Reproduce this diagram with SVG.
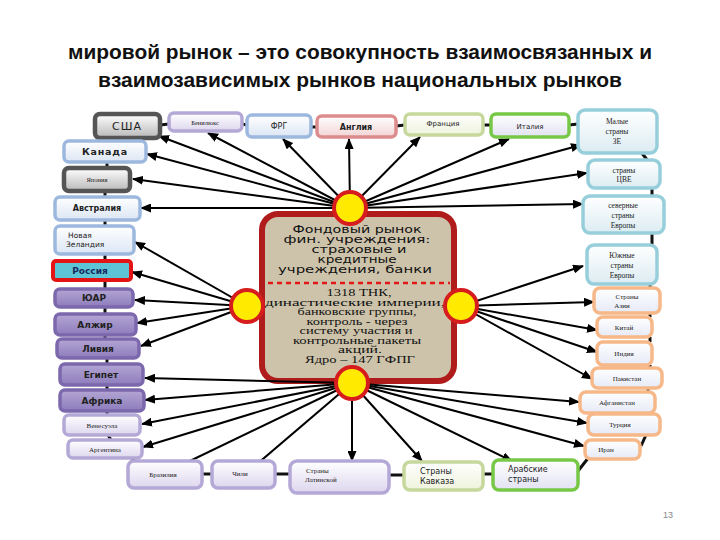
<svg xmlns="http://www.w3.org/2000/svg" width="720" height="540" viewBox="0 0 720 540">
<defs>
<linearGradient id="gGrey" x1="0" y1="0" x2="0" y2="1"><stop offset="0" stop-color="#ffffff"/><stop offset="1" stop-color="#b8b8b8"/></linearGradient>
<linearGradient id="gLP" x1="0" y1="0" x2="0" y2="1"><stop offset="0" stop-color="#ffffff"/><stop offset="1" stop-color="#ddd6ee"/></linearGradient>
<linearGradient id="gBlue" x1="0" y1="0" x2="0" y2="1"><stop offset="0" stop-color="#ffffff"/><stop offset="1" stop-color="#dce6f4"/></linearGradient>
<linearGradient id="gPink" x1="0" y1="0" x2="0" y2="1"><stop offset="0" stop-color="#ffffff"/><stop offset="1" stop-color="#f2d4d4"/></linearGradient>
<linearGradient id="gLG" x1="0" y1="0" x2="0" y2="1"><stop offset="0" stop-color="#ffffff"/><stop offset="1" stop-color="#eef3dc"/></linearGradient>
<linearGradient id="gGreen" x1="0" y1="0" x2="0" y2="1"><stop offset="0" stop-color="#ffffff"/><stop offset="1" stop-color="#e2e2f2"/></linearGradient>
<linearGradient id="gCyan" x1="0" y1="0" x2="0" y2="1"><stop offset="0" stop-color="#ffffff"/><stop offset="1" stop-color="#dcecf2"/></linearGradient>
<linearGradient id="gOr" x1="0" y1="0" x2="0" y2="1"><stop offset="0" stop-color="#ffffff"/><stop offset="1" stop-color="#e6eaf6"/></linearGradient>
<linearGradient id="gDP" x1="0" y1="0" x2="0" y2="1"><stop offset="0" stop-color="#b4a6d4"/><stop offset="1" stop-color="#8c7cbc"/></linearGradient>
<marker id="arr" markerWidth="11" markerHeight="9" refX="10" refY="4.5" orient="auto" markerUnits="userSpaceOnUse"><path d="M0,0 L11,4.5 L0,9 z" fill="#000"/></marker>
<style>
.box{stroke-width:3.5}
.grey{fill:url(#gGrey);stroke:#555555;stroke-width:4.5}
.lp{fill:url(#gLP);stroke:#b4a8d6}
.blue{fill:url(#gBlue);stroke:#9db8de}
.pink{fill:url(#gPink);stroke:#dc8c8c}
.lg{fill:url(#gLG);stroke:#c6d89c}
.green{fill:url(#gGreen);stroke:#78c848}
.cyan{fill:url(#gCyan);stroke:#96cedc}
.or{fill:url(#gOr);stroke:#f6b888}
.dp{fill:url(#gDP);stroke:#7c68ac}
.red{fill:#5cc4d4;stroke:#e41414;stroke-width:4}
.t{font-family:"DejaVu Sans",sans-serif;fill:#222;text-anchor:middle}
.s{font-family:"Liberation Serif",serif;fill:#222;text-anchor:middle}
.st{text-anchor:start}
.dk{fill:#1a2a60}
.conn line{stroke:#000;stroke-width:2}
.chain line{stroke:#111;stroke-width:3}
.hub{fill:#ffea00;stroke:#d61c1c;stroke-width:4}
.title{font-family:"Liberation Sans",sans-serif;font-weight:bold;font-size:21px;fill:#111;text-anchor:middle}
.ct{font-family:"DejaVu Sans",sans-serif;font-size:9.8px;fill:#111;text-anchor:middle}
.cs{font-family:"Liberation Serif",serif;font-size:9.8px;fill:#111;text-anchor:middle}
</style>
</defs>
<rect width="720" height="540" fill="#ffffff"/>
<g id="title">
<text class="title" x="360" y="59" textLength="584" lengthAdjust="spacingAndGlyphs">мировой рынок – это совокупность взаимосвязанных и</text>
<text class="title" x="360" y="87" textLength="524" lengthAdjust="spacingAndGlyphs">взаимозависимых рынков национальных рынков</text>
</g>

<g id="center">
<rect x="262" y="214" width="192" height="167" rx="16" fill="#cdc3aa" stroke="#b01c1c" stroke-width="6"/>
<text class="ct" x="357" y="233" textLength="129" lengthAdjust="spacingAndGlyphs">Фондовый рынок</text>
<text class="ct" x="357" y="243" textLength="147" lengthAdjust="spacingAndGlyphs">фин. учреждения:</text>
<text class="ct" x="359" y="253" textLength="95" lengthAdjust="spacingAndGlyphs">страховые и</text>
<text class="ct" x="357" y="262.5" textLength="79" lengthAdjust="spacingAndGlyphs">кредитные</text>
<text class="ct" x="355" y="272.5" textLength="154" lengthAdjust="spacingAndGlyphs">учреждения, банки</text>
<line x1="268" y1="283" x2="450" y2="283" stroke="#e01818" stroke-width="2.5" stroke-dasharray="5 4"/>
<text class="cs" x="359" y="295.5" textLength="65" lengthAdjust="spacingAndGlyphs">1318 ТНК,</text>
<text class="cs" x="355" y="305.5" textLength="180" lengthAdjust="spacingAndGlyphs">династические империи,</text>
<text class="cs" x="357" y="315" textLength="119" lengthAdjust="spacingAndGlyphs">банковские группы,</text>
<text class="cs" x="357" y="324.5" textLength="101" lengthAdjust="spacingAndGlyphs">контроль - через</text>
<text class="cs" x="356" y="334" textLength="113" lengthAdjust="spacingAndGlyphs">систему участия и</text>
<text class="cs" x="357" y="343.5" textLength="128" lengthAdjust="spacingAndGlyphs">контрольные пакеты</text>
<text class="cs" x="360" y="353" textLength="44" lengthAdjust="spacingAndGlyphs">акций.</text>
<text class="cs" x="360" y="362.5" textLength="110" lengthAdjust="spacingAndGlyphs">Ядро – 147 ГФПГ</text>
</g>

<g id="chains" class="chain">
<line x1="160" y1="125" x2="169" y2="124"/><line x1="242" y1="124" x2="247" y2="125"/><line x1="311" y1="127" x2="317" y2="127"/>
<line x1="396" y1="126" x2="405" y2="125"/><line x1="483" y1="125" x2="491" y2="125"/><line x1="569" y1="125" x2="578" y2="124"/>
<line x1="641" y1="152" x2="648" y2="161"/><line x1="652" y1="188" x2="652" y2="196"/><line x1="652" y1="233" x2="652" y2="245"/>
<line x1="650" y1="284" x2="650" y2="288"/><line x1="650" y1="313" x2="650" y2="317"/><line x1="650" y1="337" x2="650" y2="342"/>
<line x1="650" y1="365" x2="650" y2="368"/><line x1="648" y1="388" x2="648" y2="392"/><line x1="648" y1="413" x2="648" y2="414"/>
<line x1="646" y1="435" x2="641" y2="446"/><line x1="578" y1="471" x2="589" y2="457"/>
<line x1="202" y1="474" x2="212" y2="474"/><line x1="275" y1="474" x2="290" y2="474"/><line x1="389" y1="475" x2="404" y2="475"/><line x1="483" y1="474" x2="493" y2="474"/>
<line x1="103" y1="138" x2="101" y2="141"/><line x1="107" y1="162" x2="107" y2="168"/><line x1="105" y1="191" x2="105" y2="197"/>
<line x1="105" y1="220" x2="105" y2="226"/><line x1="105" y1="254" x2="105" y2="261"/><line x1="105" y1="280" x2="105" y2="289"/>
<line x1="105" y1="307" x2="105" y2="314"/><line x1="105" y1="335" x2="105" y2="339"/><line x1="107" y1="358" x2="107" y2="364"/>
<line x1="107" y1="385" x2="107" y2="390"/><line x1="107" y1="411" x2="107" y2="415"/><line x1="108" y1="435" x2="111" y2="440"/>
<line x1="135" y1="458" x2="131" y2="462"/>
</g>

<g id="connectors" class="conn">
<line x1="350" y1="208" x2="159" y2="136" marker-end="url(#arr)"/>
<line x1="350" y1="208" x2="208" y2="133" marker-end="url(#arr)"/>
<line x1="350" y1="208" x2="283" y2="139" marker-end="url(#arr)"/>
<line x1="350" y1="208" x2="349" y2="139" marker-end="url(#arr)"/>
<line x1="350" y1="208" x2="420" y2="137" marker-end="url(#arr)"/>
<line x1="350" y1="208" x2="509" y2="139" marker-end="url(#arr)"/>
<line x1="350" y1="208" x2="581" y2="145" marker-end="url(#arr)"/>
<line x1="350" y1="208" x2="587" y2="173" marker-end="url(#arr)"/>
<line x1="350" y1="208" x2="583" y2="204" marker-end="url(#arr)"/>
<line x1="350" y1="208" x2="147" y2="154" marker-end="url(#arr)"/>
<line x1="350" y1="208" x2="133" y2="179" marker-end="url(#arr)"/>
<line x1="350" y1="208" x2="141" y2="208" marker-end="url(#arr)"/>
<line x1="247" y1="306" x2="135" y2="242" marker-end="url(#arr)"/>
<line x1="247" y1="306" x2="132" y2="272" marker-end="url(#arr)"/>
<line x1="247" y1="306" x2="135" y2="300" marker-end="url(#arr)"/>
<line x1="247" y1="306" x2="137" y2="323" marker-end="url(#arr)"/>
<line x1="247" y1="306" x2="141" y2="346" marker-end="url(#arr)"/>
<line x1="461" y1="306" x2="583" y2="266" marker-end="url(#arr)"/>
<line x1="461" y1="306" x2="594" y2="302" marker-end="url(#arr)"/>
<line x1="461" y1="306" x2="597" y2="330" marker-end="url(#arr)"/>
<line x1="461" y1="306" x2="597" y2="352" marker-end="url(#arr)"/>
<line x1="461" y1="306" x2="592" y2="379" marker-end="url(#arr)"/>
<line x1="352" y1="383" x2="145" y2="378" marker-end="url(#arr)"/>
<line x1="352" y1="383" x2="145" y2="400" marker-end="url(#arr)"/>
<line x1="352" y1="383" x2="142" y2="424" marker-end="url(#arr)"/>
<line x1="352" y1="383" x2="143" y2="447" marker-end="url(#arr)"/>
<line x1="352" y1="383" x2="167" y2="472" marker-end="url(#arr)"/>
<line x1="352" y1="383" x2="250" y2="470" marker-end="url(#arr)"/>
<line x1="352" y1="383" x2="352" y2="461" marker-end="url(#arr)"/>
<line x1="352" y1="383" x2="422" y2="461" marker-end="url(#arr)"/>
<line x1="352" y1="383" x2="512" y2="461" marker-end="url(#arr)"/>
<line x1="352" y1="383" x2="579" y2="402" marker-end="url(#arr)"/>
<line x1="352" y1="383" x2="587" y2="423" marker-end="url(#arr)"/>
<line x1="352" y1="383" x2="584" y2="446" marker-end="url(#arr)"/>
</g>

<g id="hubs">
<circle class="hub" cx="350" cy="208" r="16"/>
<circle class="hub" cx="247" cy="306" r="16"/>
<circle class="hub" cx="461" cy="306" r="16"/>
<circle class="hub" cx="352" cy="383" r="16"/>
</g>

<g id="usa"><rect class="box grey" x="95" y="114" width="65" height="24" rx="5"/><text class="t" x="127" y="130" font-size="11" letter-spacing="1">США</text></g>
<g id="benelux"><rect class="box lp" x="169" y="113" width="73" height="18" rx="5"/><text class="s" x="205" y="125" font-size="6.5">Бенилюкс</text></g>
<g id="frg"><rect class="box blue" x="247" y="115" width="64" height="22" rx="5"/><text class="t" x="279" y="129" font-size="8">ФРГ</text></g>
<g id="england"><rect class="box pink" x="317" y="116" width="79" height="21" rx="5"/><text class="t" x="356" y="130" font-size="8" font-weight="bold">Англия</text></g>
<g id="france"><rect class="box lg" x="405" y="114" width="78" height="21" rx="5"/><text class="t" x="443" y="126" font-size="7">Франция</text></g>
<g id="italy"><rect class="box green" x="491" y="114" width="78" height="23" rx="5"/><text class="t" x="530" y="129" font-size="7">Италия</text></g>
<g id="small-we"><rect class="box cyan" x="578" y="110" width="79" height="43" rx="7"/><text class="s" x="617" y="124" font-size="7.5">Малые</text><text class="s" x="617" y="134" font-size="7.5">страны</text><text class="s" x="617" y="144" font-size="7.5">ЗЕ</text></g>
<g id="cve"><rect class="box cyan" x="588" y="160" width="72" height="28" rx="7"/><text class="s" x="624" y="173" font-size="7.5">страны</text><text class="s" x="624" y="182" font-size="7.5">ЦВЕ</text></g>
<g id="north"><rect class="box cyan" x="583" y="196" width="81" height="37" rx="7"/><text class="s" x="623" y="208" font-size="7.5">северные</text><text class="s" x="623" y="218" font-size="7.5">страны</text><text class="s" x="623" y="228" font-size="7.5">Европы</text></g>
<g id="south"><rect class="box cyan" x="587" y="245" width="70" height="39" rx="7"/><text class="s" x="622" y="258" font-size="7.5">Южные</text><text class="s" x="622" y="268" font-size="7.5">страны</text><text class="s" x="622" y="278" font-size="7.5">Европы</text></g>
<g id="asia"><rect class="box or" x="594" y="288" width="66" height="25" rx="6"/><text class="s" x="627" y="299" font-size="7">Страны</text><text class="s" x="622" y="308" font-size="7">Азии</text></g>
<g id="china"><rect class="box or" x="597" y="317" width="55" height="20" rx="6"/><text class="s" x="624" y="330" font-size="7">Китай</text></g>
<g id="india"><rect class="box or" x="597" y="342" width="55" height="23" rx="6"/><text class="s" x="624" y="356" font-size="7">Индия</text></g>
<g id="pakistan"><rect class="box or" x="592" y="368" width="70" height="20" rx="6"/><text class="s" x="627" y="381" font-size="7">Пакистан</text></g>
<g id="afghanistan"><rect class="box or" x="580" y="392" width="75" height="21" rx="6"/><text class="s" x="617" y="405" font-size="7">Афганистан</text></g>
<g id="turkey"><rect class="box or" x="588" y="414" width="72" height="21" rx="6"/><text class="s" x="620" y="427" font-size="7">Турция</text></g>
<g id="iran"><rect class="box or" x="585" y="440" width="55" height="19" rx="6"/><text class="s" x="606" y="452" font-size="7">Иран</text></g>
<g id="canada"><rect class="box blue" x="64" y="141" width="82" height="21" rx="5"/><text class="t" x="105" y="155" font-size="9.5" font-weight="bold" letter-spacing="0.8">Канада</text></g>
<g id="japan"><rect class="box grey" x="64" y="168" width="66" height="23" rx="5"/><text class="s" x="97" y="182" font-size="6.5">Япония</text></g>
<g id="australia"><rect class="box blue" x="55" y="197" width="85" height="23" rx="5"/><text class="t" x="97" y="211" font-size="8" font-weight="bold">Австралия</text></g>
<g id="new-zealand"><rect class="box blue" x="55" y="226" width="79" height="28" rx="5"/><text class="t st" x="68" y="238" font-size="7.5">Новая</text><text class="t st" x="66" y="247" font-size="7.5">Зеландия</text></g>
<g id="russia"><rect class="box red" x="53" y="261" width="78" height="19" rx="3"/><text class="t dk" x="90" y="274" font-size="9" font-weight="bold">Россия</text></g>
<g id="sar"><rect class="box dp" x="55" y="289" width="78" height="18" rx="5"/><text class="t" x="94" y="301" font-size="9" font-weight="bold">ЮАР</text></g>
<g id="algeria"><rect class="box dp" x="55" y="314" width="81" height="21" rx="5"/><text class="t" x="95" y="328" font-size="9" font-weight="bold">Алжир</text></g>
<g id="libya"><rect class="box dp" x="57" y="339" width="82" height="19" rx="5"/><text class="t" x="98" y="352" font-size="9" font-weight="bold">Ливия</text></g>
<g id="egypt"><rect class="box dp" x="60" y="364" width="83" height="21" rx="5"/><text class="t" x="101" y="378" font-size="9" font-weight="bold">Египет</text></g>
<g id="africa"><rect class="box dp" x="60" y="390" width="84" height="21" rx="5"/><text class="t" x="102" y="404" font-size="9" font-weight="bold">Африка</text></g>
<g id="venezuela"><rect class="box lp" x="64" y="415" width="76" height="20" rx="5"/><text class="s" x="102" y="428" font-size="7">Венесуэла</text></g>
<g id="argentina"><rect class="box lp" x="68" y="440" width="74" height="18" rx="5"/><text class="s" x="105" y="452" font-size="7">Аргентина</text></g>
<g id="brazil"><rect class="box lp" x="128" y="461" width="74" height="27" rx="6"/><text class="s" x="163" y="477" font-size="7">Бразилия</text></g>
<g id="chile"><rect class="box lp" x="212" y="461" width="63" height="27" rx="6"/><text class="s" x="240" y="476" font-size="7">Чили</text></g>
<g id="latam"><rect class="box lp" x="290" y="461" width="99" height="32" rx="7"/><text class="s st" x="306" y="473" font-size="7">Страны</text><text class="s st" x="305" y="482" font-size="7">Латинской</text></g>
<g id="caucasus"><rect class="box lg" x="404" y="462" width="79" height="28" rx="6"/><text class="t st" x="420" y="474" font-size="8">Страны</text><text class="t st" x="420" y="484" font-size="8">Кавказа</text></g>
<g id="arab"><rect class="box green" x="493" y="460" width="85" height="30" rx="6"/><text class="t st" x="508" y="472" font-size="8">Арабские</text><text class="t st" x="508" y="482" font-size="8">страны</text></g>

<text x="668" y="518" font-family="Liberation Sans, sans-serif" font-size="9" fill="#888" text-anchor="middle">13</text>
</svg>
